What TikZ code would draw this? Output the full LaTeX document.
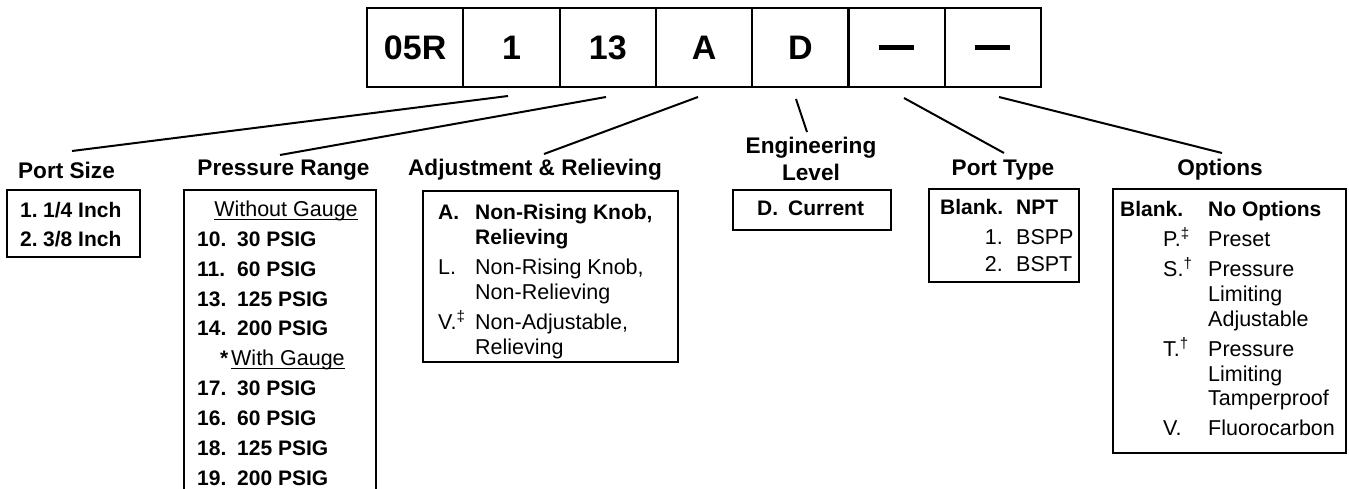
\documentclass[tikz,border=0pt]{standalone}
\usepackage{fontspec}
\setmainfont{Liberation Sans}
\begin{document}
\begin{tikzpicture}[x=1pt,y=-1pt,
  cell/.style={draw, line width=2.2pt, minimum width=96.3pt, minimum height=79pt, inner sep=0pt, font=\fontsize{34}{36}\selectfont\bfseries},
  head/.style={inner sep=0pt, font=\fontsize{22.6}{27}\selectfont\bfseries, align=center},
  txt/.style={inner sep=0pt, anchor=base west, font=\fontsize{21.5}{25}\selectfont},
  btxt/.style={inner sep=0pt, anchor=base west, font=\fontsize{21}{25}\selectfont\bfseries},
  rtxt/.style={inner sep=0pt, anchor=base east, font=\fontsize{21.5}{25}\selectfont},
  frame/.style={draw, line width=2pt, inner sep=0pt},
  conn/.style={line width=2pt},
  uline/.style={line width=1.1pt}]
\useasboundingbox (0,0) rectangle (1349,489);
% code boxes
\node[cell] (c1) at (415.15,47.5) {05R};
\node[cell] (c2) at (511.45,47.5) {1};
\node[cell] (c3) at (607.75,47.5) {13};
\node[cell] (c4) at (704.05,47.5) {A};
\node[cell] (c5) at (800.35,47.5) {D};
\node[cell] (c6) at (896.65,47.5) {\rule{35pt}{4.5pt}};
\node[cell] (c7) at (992.95,47.5) {\rule{35pt}{4.5pt}};
% connector ends
\coordinate (s1) at (508,96);
\coordinate (s2) at (606,97);
\coordinate (s3) at (698,97);
\coordinate (s4) at (796,99);
\coordinate (s5) at (904,98);
\coordinate (s6) at (999,97);
\coordinate (e1) at (72,151);
\coordinate (e2) at (280,155);
\coordinate (e3) at (544,154);
\coordinate (e4) at (807,132);
\coordinate (e5) at (1004,153);
\coordinate (e6) at (1222,153);
\draw[conn] (s1) -- (e1);
\draw[conn] (s2) -- (e2);
\draw[conn] (s3) -- (e3);
\draw[conn] (s4) -- (e4);
\draw[conn] (s5) -- (e5);
\draw[conn] (s6) -- (e6);
% headings
\node[head] (h1) at (66.5,170) {Port Size};
\node[head] (h2) at (283.5,170) {Pressure Range};
\node[head] (h3) at (535,170) {Adjustment \& Relieving};
\node[head] (h4) at (811,158.5) {Engineering\\Level};
\node[head] (h5) at (1003,170) {Port Type};
\node[head] (h6) at (1220,170) {Options};
% frames
\node[frame, minimum width=133pt, minimum height=67pt] (b1) at (73.5,223.5) {};
\node[frame, minimum width=192pt, minimum height=310pt] (b2) at (280,345) {};
\node[frame, minimum width=255pt, minimum height=171pt] (b3) at (550.5,276.5) {};
\node[frame, minimum width=158pt, minimum height=40pt] (b4) at (812,210) {};
\node[frame, minimum width=150pt, minimum height=93pt] (b5) at (1004,235.5) {};
\node[frame, minimum width=233pt, minimum height=264pt] (b6) at (1229.5,321) {};
% port size
\node[btxt] (ps1) at (20,217.5) {1.};
\node[btxt] (ps2) at (43,217.5) {1/4 Inch};
\node[btxt] (ps3) at (20,246.5) {2.};
\node[btxt] (ps4) at (43,246.5) {3/8 Inch};
% pressure range
\node[txt, anchor=base] (pr0) at (286,216.5) {Without Gauge};
\draw[uline] ([yshift=-3pt]pr0.base west) -- ([yshift=-3pt]pr0.base east);
\node[btxt] (pr1) at (197,246.5) {10.};
\node[btxt] (pr2) at (237,246.5) {30 PSIG};
\node[btxt] (pr3) at (197,276.5) {11.};
\node[btxt] (pr4) at (237,276.5) {60 PSIG};
\node[btxt] (pr5) at (197,306.5) {13.};
\node[btxt] (pr6) at (237,306.5) {125 PSIG};
\node[btxt] (pr7) at (197,335.5) {14.};
\node[btxt] (pr8) at (237,335.5) {200 PSIG};
\node[btxt] (pr9) at (220,365.5) {*};
\node[txt] (pr10) at (231,365.5) {With Gauge};
\draw[uline] ([yshift=-3pt]pr10.base west) -- ([yshift=-3pt]pr10.base east);
\node[btxt] (pr11) at (197,395.5) {17.};
\node[btxt] (pr12) at (237,395.5) {30 PSIG};
\node[btxt] (pr13) at (197,425.5) {16.};
\node[btxt] (pr14) at (237,425.5) {60 PSIG};
\node[btxt] (pr15) at (197,455.5) {18.};
\node[btxt] (pr16) at (237,455.5) {125 PSIG};
\node[btxt] (pr17) at (197,485.5) {19.};
\node[btxt] (pr18) at (237,485.5) {200 PSIG};
% adjustment
\node[btxt] (ad1) at (438,219.5) {A.};
\node[btxt] (ad2) at (475,219.5) {Non-Rising Knob,};
\node[btxt] (ad3) at (475,244.5) {Relieving};
\node[txt] (ad4) at (438,274.5) {L.};
\node[txt] (ad5) at (475,274.5) {Non-Rising Knob,};
\node[txt] (ad6) at (475,299.5) {Non-Relieving};
\node[txt] (ad7) at (438,329.5) {V.\textsuperscript{‡}};
\node[txt] (ad8) at (475,329.5) {Non-Adjustable,};
\node[txt] (ad9) at (475,354.5) {Relieving};
% engineering level
\node[btxt] (en1) at (757,215.5) {D.};
\node[btxt] (en2) at (788,215.5) {Current};
% port type
\node[btxt] (pt1) at (940,214.5) {Blank.};
\node[btxt] (pt2) at (1016,214.5) {NPT};
\node[rtxt] (pt3) at (1003,244.5) {1.};
\node[txt] (pt4) at (1016,244.5) {BSPP};
\node[rtxt] (pt5) at (1003,271.5) {2.};
\node[txt] (pt6) at (1016,271.5) {BSPT};
% options
\node[btxt] (op1) at (1120,216.5) {Blank.};
\node[btxt] (op2) at (1208,216.5) {No Options};
\node[txt] (op3) at (1163,246.5) {P.\textsuperscript{‡}};
\node[txt] (op4) at (1208,246.5) {Preset};
\node[txt] (op5) at (1163,276.5) {S.\textsuperscript{†}};
\node[txt] (op6) at (1208,276.5) {Pressure};
\node[txt] (op7) at (1208,301.5) {Limiting};
\node[txt] (op8) at (1208,326.5) {Adjustable};
\node[txt] (op9) at (1163,356.5) {T.\textsuperscript{†}};
\node[txt] (op10) at (1208,356.5) {Pressure};
\node[txt] (op11) at (1208,381.5) {Limiting};
\node[txt] (op12) at (1208,405.5) {Tamperproof};
\node[txt] (op13) at (1163,435.5) {V.};
\node[txt] (op14) at (1208,435.5) {Fluorocarbon};
\end{tikzpicture}
\end{document}
